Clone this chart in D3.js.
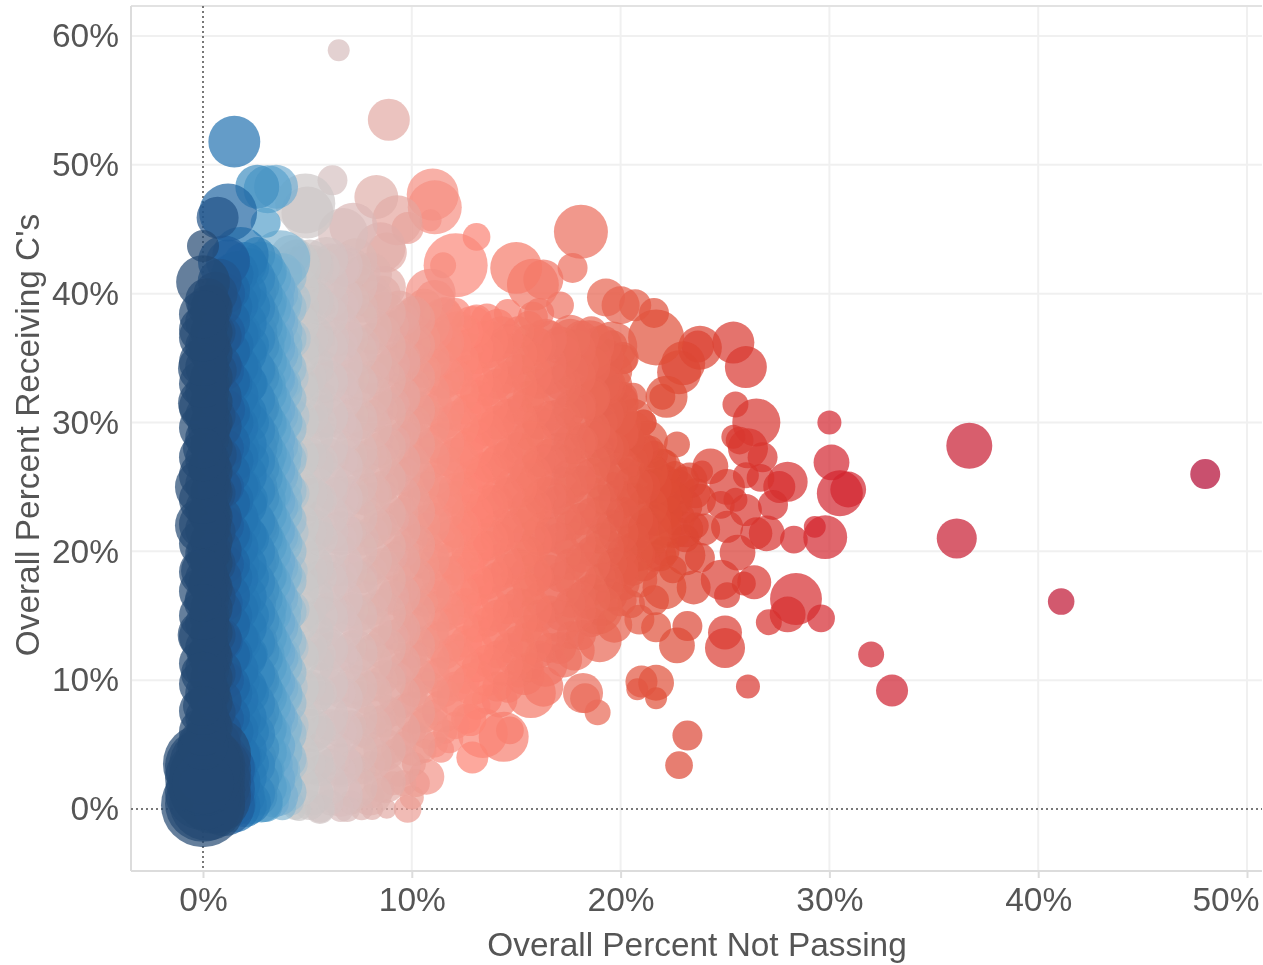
<!DOCTYPE html>
<html><head><meta charset="utf-8">
<script src="https://cdn.jsdelivr.net/npm/d3@7"></script>
<style>
html,body{margin:0;padding:0;background:#fff;overflow:hidden}
svg{display:block;filter:blur(0.5px)}
text{font-family:"Liberation Sans",Arial,sans-serif;fill:#555}
</style></head><body><div id="chart"></div>
<script>
const xTickValues=[0,10,20,30,40,50];
const yTickValues=[0,10,20,30,40,50,60];
const xTitle="Overall Percent Not Passing";
const yTitle="Overall Percent Receiving C's";
const colorStops=[0,0.4,1,1.5,2.2,3.1,3.5,3.9,4.4,6.2,8.9,11,12.5,18,22,26,30,48];
const colorValues=["#244872","#244872","#1f5c9b","#2272b0","#2b7eb8","#5aa3cd","#74aed2","#8fbbd2","#c9c9c9","#d6c1c1","#e3aaa4","#f58f82","#fd8576","#eb6d5c","#de4c35","#d8352e","#d3242e","#b20631"];

// individually visible schools: percent not passing, percent receiving C's, enrollment size
const outlierX=[6.5,8.9,1.5,6.2,2.6,3.5,3.1,1.2,0.7,0,8.3,11,11.1,10.9,9.3,9.8,13.1,12.1,11.5,15,18.1,17.7,15.8,16.3,19.3,20.7,21.6,21.7,20,23.8,23.7,23,22.8,22.2,22,25.4,26,25.5,26.5,25.4,26.1,25.7,26.8,30,30.1,30.5,30.9,28,27.6,27.3,29.8,29.3,28.3,27,26.5,25.6,25.1,24.3,23.9,25.1,22.7,21.1,19.6,19.3,33,32,26.1,23.2,22.8,21.7,21,20.8,21.7,28.4,28,29.6,27.1,25,25,22.7,23.2,21.7,22.1,23.5,26.4,25.9,25.1,23.8,24.8,20.5,18.9,18.2,18.3,18.9,16.3,15.7,14.4,14.7,12.9,13.4,10.7,10.2,9.8,10,8.8,8.1,6.9,5.6,4.4,36.7,36.1,41.1,48,3.7,4.9,5,6.7,7.2,8.5,8.8,10.9];
const outlierY=[58.9,53.5,51.8,48.8,48.3,48.3,48.1,46.3,45.9,43.7,47.5,47.7,46.7,45.7,45.7,45.1,44.4,42.2,42.2,42,44.8,42,40.7,41.1,39.7,39.1,38.5,36.6,39.1,35.8,35.9,34.6,33.9,32,32,36.2,34.3,31.4,30,28.9,28,28.6,27.3,30,26.9,24.5,24.8,25.4,25,23.6,21.1,21.9,20.9,21.4,21.4,19.9,21.9,26.6,26.2,25,28.3,30,30.7,32.9,9.2,12,9.5,5.7,3.4,9.8,9.9,9.3,8.6,16.3,15.1,14.8,14.5,12.5,13.7,12.7,14.2,14.1,17.2,17.2,17.6,17.5,16.6,19.5,17.8,15.9,15.5,9,8.6,7.5,9.5,9,5.6,6.1,4,5.9,2.5,2,0,0.9,0,0,0,0,0,28.2,21,16.1,26,42.6,47,46.3,44.7,45.2,43.6,43.2,40];
const outlierSize=[7.5,27.5,42,14,30,30,36,52.5,27.5,16,30,42,45.5,7.5,39,16,12,64,10.5,42,45.5,14,42,25,22.5,16,14,49,22.5,30,16,30,30,27.5,10.5,27.5,27.5,10.5,36,9,25,12,14,9,20,33,20,25,16,14,30,7.5,12,20,16,20,16,20,7.5,20,10.5,10.5,39,25,16,10.5,9,14,12,20,16,7.5,7.5,42,20,12,10.5,25,18,20,14,14,30,18,18,9,10.5,14,25,12,39,25,14,10.5,25,39,39,12,16,39,20,12,12,9,6,7.5,10.5,14,7.5,33,25,11,14,56,56,42,39,36,39,25,39];

// schools around the right and lower rim of the cloud
const rimX=[21.6,23.3,22.4,23.8,21.4,23.1,24,21.9,20.9,23.1,22.5,20.9,20,21.6,19.7,19,17.8,20.9,20,24.8,26,26.7,26,25.5,20.4,21.4,20.2,19,18.5,19.7,19.6,20.1,18.5,17.6,15.8,17.1,17.3,16.4,15.4,14.2,12.8,11.8,11.4];
const rimY=[26.3,25.5,24,24,21.7,21.7,21.7,19.7,19.7,19.7,18.6,17.8,18.2,16.2,14.3,13.1,12.3,14.7,16.2,23.6,25.9,25.7,23.2,24,28.6,27.9,29.8,28.6,31.8,32.9,35.9,34.9,36,36.8,38.2,39.1,11.6,11.2,10.4,8.5,6.9,5.4,4.6];
const rimSize=[14,20,25,16,30,20,16,16,16,25,12,20,20,14,20,30,25,14,16,12,10.5,12,16,9,16,12,16,20,25,20,39,14,39,25,14,12,20,30,25,20,16,12,10.5];

// the dense cloud, one row per percent-not-passing value: x, then y,size pairs
const cloudRows=[
[0,0.3,110,3.5,100,2,60,5,40,8,25,10.5,30,13.5,40,16,22,18.5,30,22,49,25,49,28,25,31.5,39,34.2,39,37.2,36,40.9,45],
[0.3,1,60,3.5,50,6.5,30,9,28,12,30,15,25,17.5,28,20,30,23,28,26.5,28,29.5,28,33,25,36,28,39,30],
[0.6,2,45,5,40,7.5,25,10.5,25,13.5,25,16.5,25,19,25,21.5,25,24.5,25,27.5,28,30.5,25,34,28,37,25,40,30],
[1,1,40,4,36,7,25,10,25,13,22,16,22,19,25,22,25,25,25,28,25,31,28,34,25,37,28,40,28,42.5,42],
[1.4,0.5,36,3,36,6,28,9,25,12,25,15,25,18,25,21,25,24,28,27,28,30,28,33,25,36,28,39,25,41.5,28],
[1.8,1,36,4,28,7,25,10,22,13,25,16,25,19,22,22,25,25,25,28,22,31,25,34,28,37,25,40,25,43,49],
[2.2,0.5,30,3.5,25,6,25,9,25,12,22,15,25,18,25,21,25,24,22,27,25,30,25,33,22,36,25,39,28,42,25],
[2.6,1,25,4,22,7,22,10,25,13,25,16,22,19,22,22,25,25,25,28,25,31,25,34,22,37,25,40,22,43,20],
[3,0.3,18,3,22,6,25,9,22,12,22,15,25,18,25,21,22,24,25,27,22,30,25,33,25,36,22,39,25,41.5,25,45.5,14],
[3.4,0.5,14,3.5,22,6.5,20,9.5,22,12.5,22,15.5,20,18.5,22,21.5,25,24.5,22,27.5,25,30.5,20,33.5,25,36.5,25,39.5,25],
[3.8,0.2,12,3,20,6,22,9,25,12,20,15,22,18,22,21,20,24,25,27,22,30,25,33,22,36,25,39,22],
[4.2,0.5,10.5,3.5,18,6.5,20,9.5,18,12.5,20,15.5,22,18.5,18,21.5,20,24.5,22,27.5,18,30.5,22,33.5,20,36.5,25,39.5,25,43,25],
[4.6,0,9,3,16,6,18,9,20,12,18,15,20,18,22,21,18,24,20,27,22,30,18,33,22,36,25,39,25,42,30],
[5.1,0.3,14,3.5,16,6.5,18,9.5,16,12.5,20,15.5,18,18.5,20,21.5,18,24.5,20,27.5,18,30.5,22,33.5,18,36.5,22,39.5,25,42.5,30],
[5.6,0,12,3,16,6,16,9,18,12,16,15,20,18,18,21,20,24,18,27,20,30,18,33,22,36,20,39,22,42,25],
[6.1,0.5,10.5,3.5,14,6.5,16,9.5,18,12.5,16,15.5,18,18.5,16,21.5,20,24.5,18,27.5,16,30.5,20,33.5,18,36.5,22,39.5,20,42.5,20],
[6.6,0,10.5,3,14,6,16,9,14,12,18,15,16,18,18,21,16,24,20,27,18,30,16,33,20,36,18,39,20,42,22],
[7.1,0.5,9,3.5,12,6.5,14,9.5,16,12.5,14,15.5,18,18.5,16,21.5,14,24.5,18,27.5,16,30.5,18,33.5,20,36.5,18,39.5,20,42,25],
[7.6,0,8,3,12,6,14,9,12,12,16,15,14,18,16,21,18,24,14,27,18,30,16,33,18,36,20,39,16,41.5,22],
[8.1,1,9,3.5,10.5,6.5,12,9.5,14,12.5,12,15.5,16,18.5,14,21.5,16,24.5,18,27.5,14,30.5,16,33.5,18,36.5,16,39.5,22],
[8.6,1.5,9,4,10.5,7,12,10,14,13,16,16,12,19,16,22,14,25,16,28,18,31,14,34,18,37,20,40,20],
[9.1,2,9,4.5,9,7.5,12,10.5,12,13.5,14,16.5,16,19.5,12,22.5,16,25.5,14,28.5,18,31.5,16,34.5,18,37.5,16],
[9.6,2,10.5,5,10.5,8,9,11,14,14,12,17,14,20,16,23,14,26,18,29,14,32,16,35,18,38,16],
[10.1,3.5,9,6,9,9,12,12,12,15,14,18,16,21,12,24,16,27,14,30,18,33,14,36,18,38.5,18],
[10.6,4.5,9,7,12,10,10.5,13,14,16,12,19,14,22,16,25,14,28,16,31,14,34,18,36.5,16,39,20],
[11.1,5,10.5,7.5,10.5,10.5,14,13.5,12,16.5,16,19.5,12,22.5,16,25.5,14,28.5,16,31.5,18,34.5,14,37,20,39.5,25],
[11.6,6,9,9,12,12,14,15,12,18,16,21,14,24,18,27,14,30,16,33,14,36,18,38.5,16],
[12.1,6.5,12,9.5,14,12.5,12,15.5,16,18.5,14,21.5,16,24.5,14,27.5,18,30.5,14,33.5,18,36,16,38.5,14],
[12.6,7,14,10,12,13,16,16,14,19,18,22,14,25,16,28,18,31,14,34,16,37,18],
[13.1,8,12,11,14,14,12,17,16,20,14,23,18,26,16,29,14,32,18,35,16,38,14],
[13.6,8.5,14,11.5,16,14.5,14,17.5,16,20.5,12,23.5,18,26.5,14,29.5,18,32.5,16,35.5,18,38,16],
[14.1,9.5,14,12,12,15,16,18,14,21,18,24,14,27,16,30,18,33,14,36,16,37.5,18],
[14.6,9.5,16,12.5,14,15.5,14,18.5,18,21.5,14,24.5,16,27.5,14,30.5,18,33.5,16,36.5,14,38.5,12],
[15.1,10.5,12,13,16,16,14,19,16,22,18,25,14,28,16,31,14,34,18,37,16],
[15.6,11,14,14,12,17,16,20,14,23,16,26,18,29,14,32,16,35,18,37.5,14],
[16.1,12,12,15,16,18,14,21,18,24,14,27,16,30,18,33,14,36,18,38.5,14],
[16.6,12.5,14,15.5,12,18.5,16,21.5,14,24.5,18,27.5,16,30.5,14,33.5,18,36.5,20],
[17.1,12.5,16,15,14,18,14,21,16,24,14,27,18,30,14,33,16,36,22],
[17.6,13.5,12,16,14,19,16,22,14,25,18,28,14,31,16,34,20,36.5,25],
[18.1,13.5,14,16.5,14,19.5,14,22.5,16,25.5,14,28.5,18,31.5,14,34.5,20,36.5,20],
[18.6,14.5,14,17,16,20,14,23,14,26,16,29,14,32,18,35,25,37,16],
[19.1,15.5,18,18,12,21,16,24,14,27,14,30,16,33,20,36,25],
[19.6,16.5,14,19,14,22,16,25,14,28,18,31,14,34,25,36,14],
[20.1,17.5,18,20,14,23,16,26,18,29,16,32,14,35,16],
[20.6,18.5,14,21,16,24,18,27,14,29.5,20,32,12],
[21.1,19,18,22,14,25,18,28,14,30,10.5],
[21.6,19.5,12,22.5,18,25,20,27.5,12],
[22.1,20,14,23,20,25.5,16,27,9],
[22.6,21.5,16,24,20,26,10.5],
[23.1,21,12,23.5,18,25.5,12],
[23.6,22,10.5,24.5,14]
];

// schools packed inside the cloud: x, size, then y values
const packedRows=[
[0,36,6,7.6,9.7,11.3,13.4,15,16.9,18.4,20.6,22.1,24,25.9,27.3,29.6,31.2,33,34.7,36.6,38.4],
[0.2,30,5.5,7.1,9,10.9,12.5,14.4,16.3,17.9,19.8,21.7,23.3,25.2,27.1,28.8,30.5,32.4,34.3,35.9,37.8,39.5],
[0.4,28,6.4,8.3,10.2,11.8,13.7,15.6,17.2,19.1,20.8,22.7,24.6,26.2,28.1,30,31.6,33.5,35.4,37,38.9],
[0,90,0.4,1.3,2.4,3.3],
[0.2,90,0.5,1.5,2.6,3.4],
[0.5,88,1,2.1,3,4.2],
[0.8,30,6,8.4,10.7,13.2,15.4,17.9,20.1,22.6,24.9,27.2,29.7,32,34.4,36.7,39.1,41],
[1,60,0.3,1.6,3.1],
[1.2,30,7.2,9.6,11.9,14.3,16.6,19,21.4,23.7,26.1,28.4,30.8,33.2,35.5,37.9,40.3,42.5],
[1.5,42,0.2,2.1,4],
[1.6,30,6.1,8.5,10.8,13.2,15.5,17.9,20.3,22.6,25,27.3,29.7,32.1,34.4,36.8,39.2,41.6],
[2,30,0.3,2.5,4.6,7.1,9.4,11.8,14.1,16.5,18.9,21.2,23.6,25.9,28.3,30.7,33,35.4,37.7,40.1,42.3],
[2.4,30,1.2,3.4,5.8,8.2,10.5,12.9,15.2,17.6,20,22.3,24.7,27,29.4,31.8,34.1,36.5,38.9,41.2],
[2.6,30,2.2,4.7,7.6,10,12.2,14.6,17,19.4,21.7,24.2,26.5,28.9,31.2,33.6,36,38.3,40.6],
[2.8,28,0.6,2.9,6.9,9.3,11.7,14,16.4,18.7,21.1,23.5,25.8,28.2,30.5,32.9,35.3,37.6,40,42.4],
[3,28,1.7,4.4,6.3,8.7,11.1,13.4,15.8,18.1,20.5,22.9,25.2,27.6,29.9,32.3,34.7,37,39.4,41.7],
[3.2,28,1.4,4.1,5.8,8.1,10.5,12.8,15.2,17.6,19.9,22.3,24.6,27,29.4,31.7,34.1,36.4,38.8,41.2],
[3.4,28,2.3,4.9,7.4,9.8,12.1,14.5,16.9,19.2,21.6,23.9,26.3,28.7,31,33.4,35.8,38.1,40.5],
[3.6,25,1,3.2,7,9.4,11.7,14.1,16.4,18.8,21.2,23.5,25.9,28.2,30.6,33,35.3,37.7,40],
[3.8,25,1.9,4.5,6.4,8.8,11.2,13.5,15.9,18.3,20.6,23,25.3,27.7,30.1,32.4,34.8,37.1,39.5,41.6],
[4,25,1.3,3.9,5.8,8.2,10.6,12.9,15.3,17.7,20,22.4,24.7,27.1,29.5,31.8,34.2,36.5,38.9,41.3],
[4.5,30,1.8,4.2,7,9.4,11.8,14.6,17,19.8,22.1,24.9,27.3,30.1,32.4,35.2,37.6,40.4,42.5],
[5.2,30,1.2,3.6,6.1,8.9,11.3,13.7,16.4,18.8,21.6,24,26.7,29.1,31.5,34.3,36.7,39.4,42.1],
[5.9,30,1.9,4.5,7.3,9.7,12.4,14.8,17.6,20.2,22.8,25.3,28.1,30.5,33.2,35.8,38.3,40.9,42.7],
[6.6,30,1.1,3.4,6,8.6,11.2,13.9,16.2,19,21.4,24.1,26.6,29.2,31.9,34.4,36.9,39.6,42.2],
[7.3,30,1.7,4.4,7.1,9.5,12.2,15,17.4,20.1,22.7,25.2,27.8,30.3,33,35.5,38.1,40.7,42.6],
[8,30,1.2,3.9,6.3,9,11.4,14.1,16.7,19.3,21.9,24.4,27,29.6,32.1,34.7,37.3,39.8,41.5],
[8.7,28,2.1,4.6,7.2,9.9,12.5,15.2,17.8,20.4,22.9,25.6,28.1,30.8,33.3,35.9,38.5,40.5],
[9.4,28,3.4,6.1,8.8,11.3,13.9,16.6,19.2,21.7,24.3,26.9,29.5,32,34.6,37.1,38.6],
[10.1,28,5,7.5,10.2,12.7,15.3,17.9,20.5,23.1,25.8,28.3,30.9,33.5,36,38],
[10.8,28,6.3,9,11.6,14.2,16.8,19.4,22,24.6,27.2,29.7,32.3,34.9,37.5],
[11.5,28,7.6,10.2,12.9,15.4,18,20.6,23.2,25.8,28.4,31,33.6,36.2,38],
[12.2,28,8.8,11.4,14.1,16.7,19.3,21.9,24.5,27.1,29.7,32.3,34.8,37],
[12.9,28,9.7,12.4,15,17.6,20.2,22.8,25.4,28,30.6,33.2,35.7,37.4],
[13.6,28,10.4,13.1,15.7,18.3,20.9,23.5,26.1,28.7,31.3,33.9,36.3],
[14.3,28,11.2,13.8,16.4,19,21.6,24.2,26.8,29.4,32,34.6,36.6],
[15,28,12,14.6,17.2,19.8,22.4,25,27.6,30.2,32.8,35.3],
[15.7,28,12.9,15.5,18.1,20.7,23.3,25.9,28.5,31.1,33.7,36],
[16.4,28,13.7,16.3,18.9,21.5,24.1,26.7,29.3,31.9,34.5,36.4],
[17.1,28,14.6,17.2,19.8,22.4,25,27.6,30.2,32.8,35.2],
[17.8,28,15.4,18,20.6,23.2,25.8,28.4,31,33.6,35.6],
[18.5,28,16.4,19,21.6,24.2,26.8,29.4,32,34.3],
[19.2,25,17.6,20.2,22.8,25.4,28,30.6,33,35],
[19.9,25,18.8,21.4,24,26.6,29.2,31.5],
[20.6,25,19.9,22.5,25.1,27.7,30.3],
[21.3,25,20.9,23.5,26.1,28.6],
[22,22,21.7,24.3,26.5],
[22.7,20,22.6,25]
];

const margin={left:131,top:6,right:1262,bottom:871};
const xScale=d3.scaleLinear().domain([0,50]).range([203,1247]);
const yScale=d3.scaleLinear().domain([0,60]).range([809,36]);
const sizeScale=d3.scaleSqrt().domain([0,110]).range([0,42]);
const colorScale=d3.scaleLinear().domain(colorStops).range(colorValues).interpolate(d3.interpolateRgb).clamp(true);

const points=[];
outlierX.forEach((x,i)=>points.push({x,y:outlierY[i],s:outlierSize[i]}));
rimX.forEach((x,i)=>points.push({x,y:rimY[i],s:rimSize[i]}));
cloudRows.forEach(row=>{for(let j=1;j<row.length;j+=2)points.push({x:row[0],y:row[j],s:row[j+1]});});
packedRows.forEach(row=>{for(let j=2;j<row.length;j++)points.push({x:row[0],y:row[j],s:row[1]});});
points.sort((a,b)=>d3.descending(a.x,b.x)||d3.descending(a.s,b.s));

const svg=d3.select("#chart").append("svg").attr("width",1263).attr("height",965);

const grid=svg.append("g").attr("stroke","#f0f0f0").attr("stroke-width",2);
grid.selectAll(".gx").data(xTickValues.filter(d=>d!==0)).join("line").attr("x1",xScale).attr("x2",xScale).attr("y1",margin.top).attr("y2",margin.bottom);
grid.selectAll(".gy").data(yTickValues.filter(d=>d!==0)).join("line").attr("y1",yScale).attr("y2",yScale).attr("x1",margin.left).attr("x2",margin.right);

svg.append("line").attr("x1",margin.left).attr("x2",margin.right).attr("y1",margin.top).attr("y2",margin.top).attr("stroke","#e2e2e2").attr("stroke-width",2);
svg.append("line").attr("x1",margin.left).attr("x2",margin.left).attr("y1",margin.top).attr("y2",margin.bottom).attr("stroke","#dcdcdc").attr("stroke-width",2);
svg.append("line").attr("x1",margin.left).attr("x2",margin.right).attr("y1",margin.bottom).attr("y2",margin.bottom).attr("stroke","#dcdcdc").attr("stroke-width",2);

const zero=svg.append("g").attr("stroke","#777").attr("stroke-width",2).attr("stroke-dasharray","2 3");
zero.append("line").attr("x1",xScale(0)).attr("x2",xScale(0)).attr("y1",margin.top).attr("y2",margin.bottom);
zero.append("line").attr("x1",margin.left).attr("x2",margin.right).attr("y1",yScale(0)).attr("y2",yScale(0));

svg.append("g").selectAll("circle").data(points).join("circle")
  .attr("cx",d=>xScale(d.x)).attr("cy",d=>yScale(d.y)).attr("r",d=>sizeScale(d.s))
  .attr("fill",d=>colorScale(d.x)).attr("fill-opacity",0.7);

const fmt=d=>d+"%";
const xAxis=svg.append("g").attr("transform",`translate(0,${margin.bottom})`)
  .call(d3.axisBottom(xScale).tickValues(xTickValues).tickFormat(fmt).tickSize(7).tickPadding(9));
const yAxis=svg.append("g").attr("transform",`translate(${margin.left},0)`)
  .call(d3.axisLeft(yScale).tickValues(yTickValues).tickFormat(fmt).tickSize(0).tickPadding(12));
[xAxis,yAxis].forEach(a=>{a.select(".domain").remove();a.selectAll("line").attr("stroke","#dcdcdc").attr("stroke-width",2);a.selectAll("text").attr("font-size",33.5).style("font-family",'"Liberation Sans",Arial,sans-serif').attr("fill","#555");});
xAxis.selectAll(".tick text").filter(d=>d===50).attr("text-anchor","end").attr("dx",12);

svg.append("text").attr("x",697).attr("y",956).attr("text-anchor","middle").attr("font-size",33.4).text(xTitle);
svg.append("text").attr("transform","translate(39,435) rotate(-90)").attr("text-anchor","middle").attr("font-size",33.4).text(yTitle);
</script></body></html>
